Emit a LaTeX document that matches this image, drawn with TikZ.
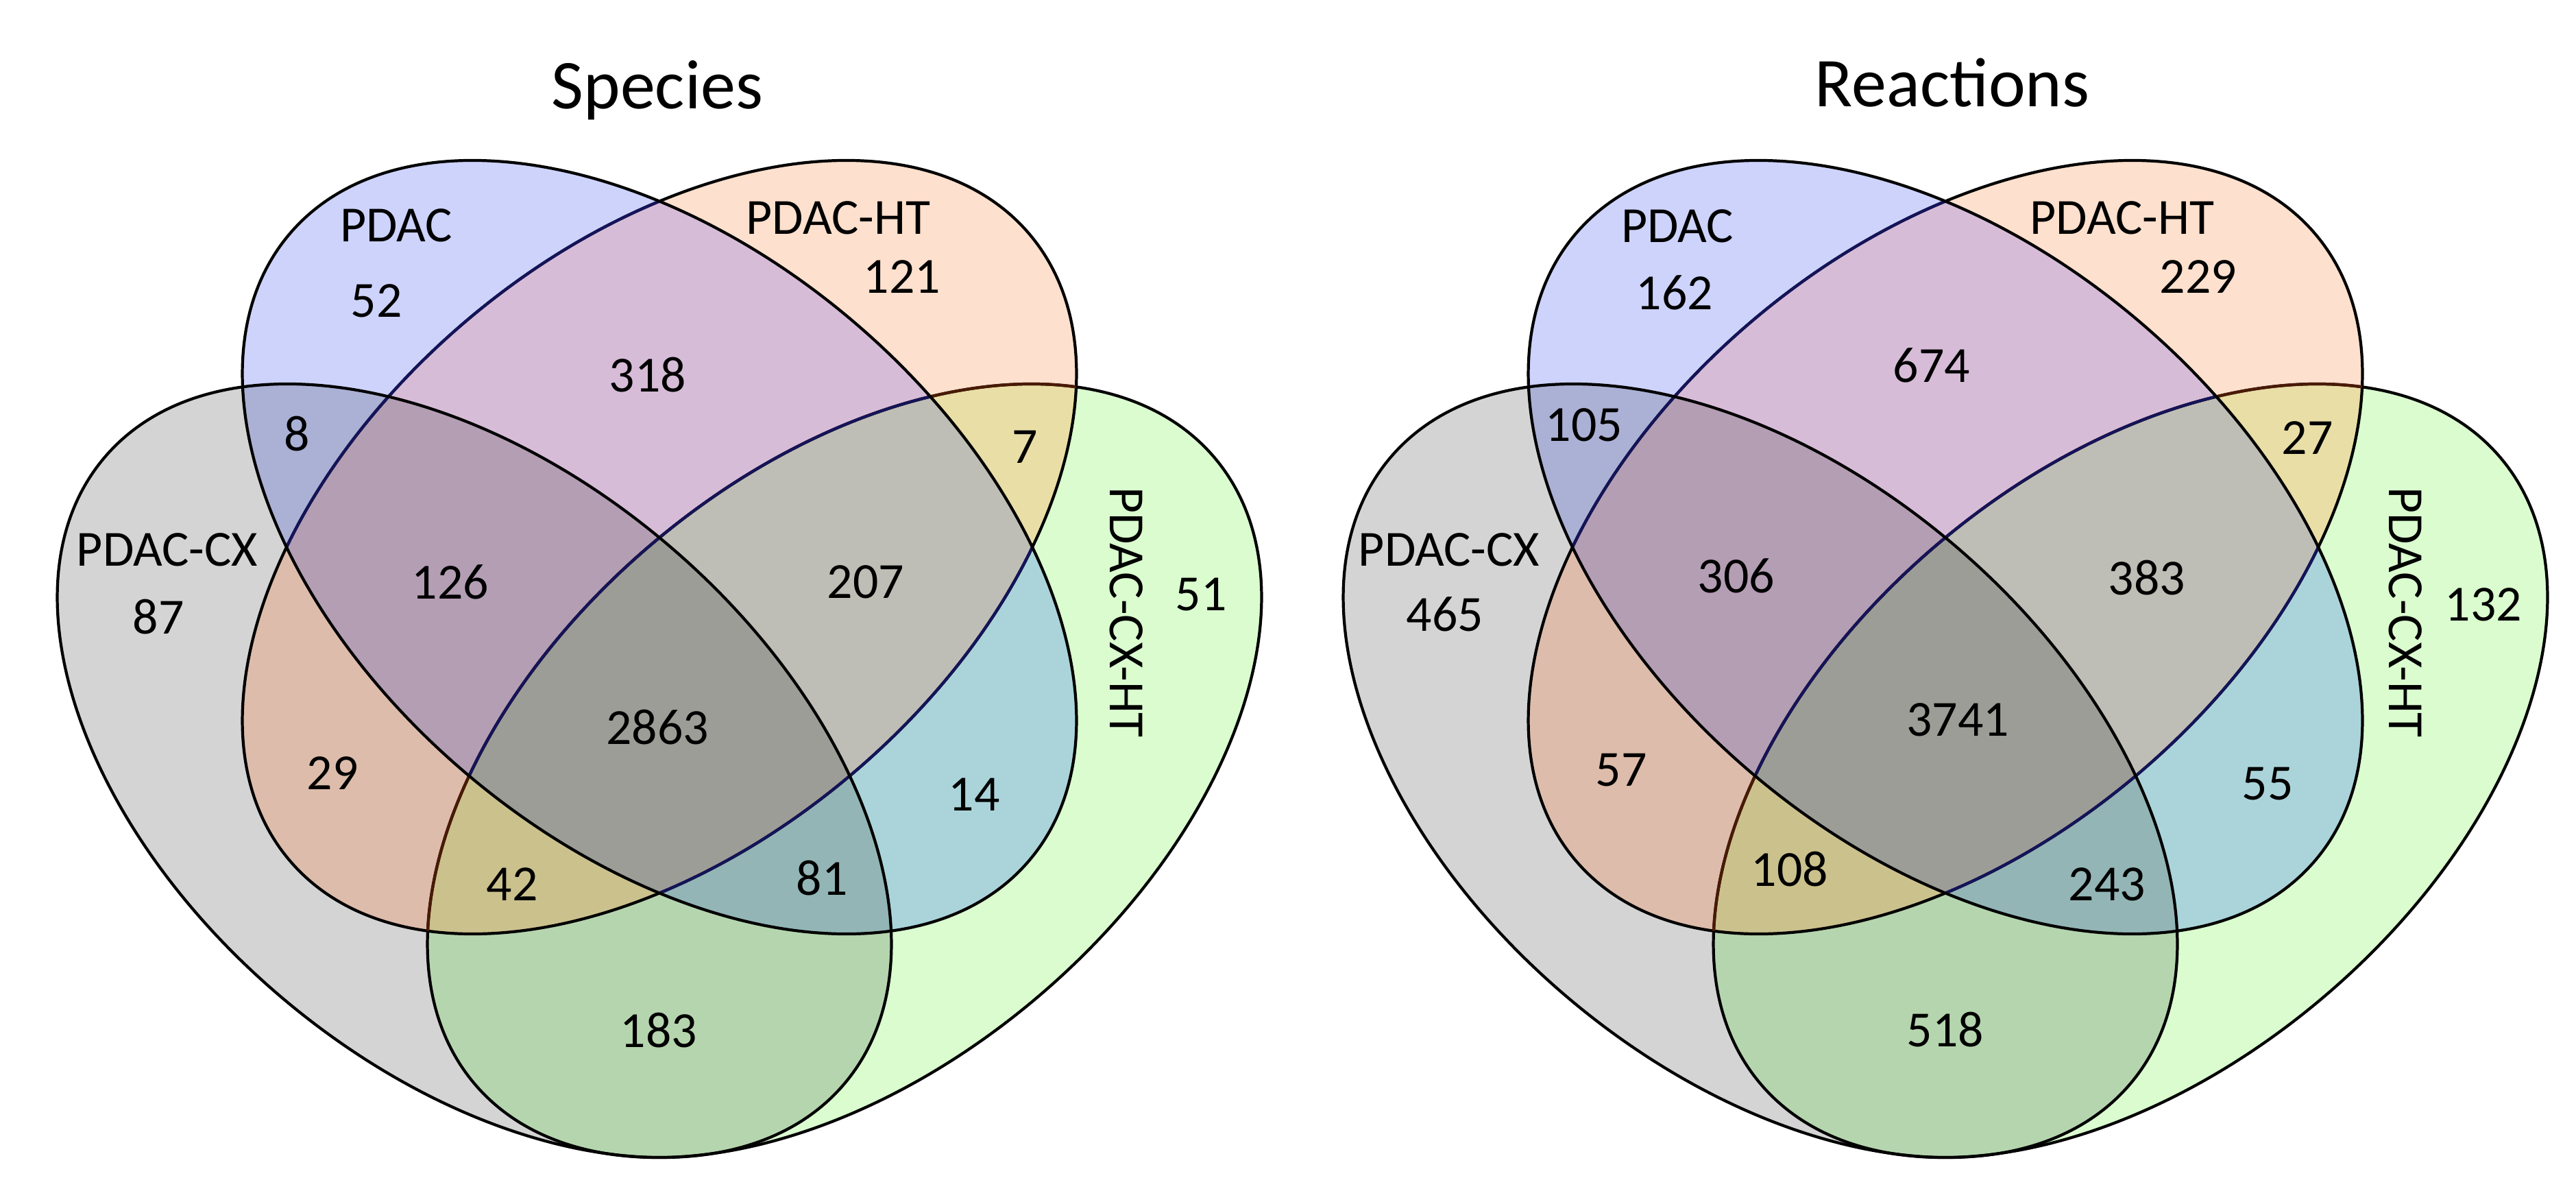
\documentclass[tikz,border=0pt]{standalone}
\usepackage{fontspec}
\setmainfont{Carlito}
\definecolor{cB}{HTML}{CDD3FB}
\definecolor{cO}{HTML}{FDE0CD}
\definecolor{cG}{HTML}{D4D4D4}
\definecolor{cN}{HTML}{DAFCCF}
\definecolor{cBO}{HTML}{D7BCD8}
\definecolor{cBG}{HTML}{ABB0D5}
\definecolor{cOG}{HTML}{DDBCAB}
\definecolor{cON}{HTML}{E9DEA6}
\definecolor{cBN}{HTML}{AAD4DA}
\definecolor{cGN}{HTML}{B5D5AE}
\definecolor{cBOG}{HTML}{B49EB4}
\definecolor{cBON}{HTML}{BEBEB6}
\definecolor{cOGN}{HTML}{CBC18D}
\definecolor{cBGN}{HTML}{93B5B5}
\definecolor{cALL}{HTML}{9D9D98}
\definecolor{navyline}{HTML}{14145A}
\definecolor{brownline}{HTML}{4A1A05}
\tikzset{
  lbl/.style={font=\fontsize{21pt}{25pt}\selectfont, inner sep=0pt},
  ttl/.style={font=\fontsize{29pt}{34pt}\selectfont, inner sep=0pt, anchor=base},
  outl/.style={draw=black, line width=1.2pt},
}
\newcommand\clipB{\clip[rotate around={-40.2:(9.62,-7.98)}] (9.62,-7.98) ellipse [x radius=7.07, y radius=4.34];}
\newcommand\clipO{\clip[rotate around={40.2:(9.62,-7.98)}] (9.62,-7.98) ellipse [x radius=7.07, y radius=4.34];}
\newcommand\clipG{\clip[rotate around={-40.2:(6.92,-11.24)}] (6.92,-11.24) ellipse [x radius=7.07, y radius=4.34];}
\newcommand\clipN{\clip[rotate around={40.2:(12.32,-11.24)}] (12.32,-11.24) ellipse [x radius=7.07, y radius=4.34];}
\newcommand\drawB[1]{\draw[outl, #1, rotate around={-40.2:(9.62,-7.98)}] (9.62,-7.98) ellipse [x radius=7.07, y radius=4.34];}
\newcommand\drawO[1]{\draw[outl, #1, rotate around={40.2:(9.62,-7.98)}] (9.62,-7.98) ellipse [x radius=7.07, y radius=4.34];}
\newcommand\drawG[1]{\draw[outl, #1, rotate around={-40.2:(6.92,-11.24)}] (6.92,-11.24) ellipse [x radius=7.07, y radius=4.34];}
\newcommand\drawN[1]{\draw[outl, #1, rotate around={40.2:(12.32,-11.24)}] (12.32,-11.24) ellipse [x radius=7.07, y radius=4.34];}
\newcommand\paint[2]{\begin{scope}#2\fill[#1] (-1,1) rectangle (20,-19);\end{scope}}
\newcommand\vennshapes{%
  \paint{cB}{\clipB}\paint{cO}{\clipO}\paint{cG}{\clipG}\paint{cN}{\clipN}%
  \paint{cBO}{\clipB\clipO}\paint{cBG}{\clipB\clipG}\paint{cBN}{\clipB\clipN}%
  \paint{cOG}{\clipO\clipG}\paint{cON}{\clipO\clipN}\paint{cGN}{\clipG\clipN}%
  \paint{cBOG}{\clipB\clipO\clipG}\paint{cBON}{\clipB\clipO\clipN}%
  \paint{cBGN}{\clipB\clipG\clipN}\paint{cOGN}{\clipO\clipG\clipN}%
  \paint{cALL}{\clipB\clipO\clipG\clipN}%
  \drawN{}\drawO{}%
  \begin{scope}\clipO\drawN{draw=brownline}\end{scope}%
  \begin{scope}\clipB\drawN{draw=navyline}\drawO{draw=navyline}\end{scope}%
  \drawB{}\drawG{}%
}
\begin{document}
\begin{tikzpicture}
\fill[white] (0,0) rectangle (37.58,-17.52);
\useasboundingbox (0,0) rectangle (37.58,-17.52);
% left diagram
\begin{scope}
\vennshapes
\end{scope}
\node[ttl] (tS) at (9.59,-1.58) {Species};
\node[lbl] (sA) at (5.78,-3.29) {PDAC};
\node[lbl] (sAn) at (5.49,-4.39) {52};
\node[lbl] (sB) at (12.23,-3.18) {PDAC-HT};
\node[lbl] (sBn) at (13.16,-4.04) {121};
\node[lbl] (s318) at (9.45,-5.47) {318};
\node[lbl] (s8) at (4.33,-6.33) {8};
\node[lbl] (s7) at (14.95,-6.52) {7};
\node[lbl] (sC) at (2.44,-8.02) {PDAC-CX};
\node[lbl] (sCn) at (2.31,-9.00) {87};
\node[lbl] (s126) at (6.57,-8.49) {126};
\node[lbl] (s207) at (12.63,-8.49) {207};
\node[lbl] (sDn) at (17.52,-8.67) {51};
\node[lbl, rotate=-90] (sD) at (16.43,-8.93) {PDAC-CX-HT};
\node[lbl] (s2863) at (9.59,-10.61) {2863};
\node[lbl] (s29) at (4.85,-11.28) {29};
\node[lbl] (s14) at (14.21,-11.59) {14};
\node[lbl] (s42) at (7.47,-12.90) {42};
\node[lbl] (s81) at (11.99,-12.81) {81};
\node[lbl] (s183) at (9.61,-15.03) {183};
% right diagram
\begin{scope}[xshift=18.76cm]
\vennshapes
\end{scope}
\node[ttl] (tR) at (28.48,-1.55) {Reactions};
\node[lbl] (rA) at (24.47,-3.30) {PDAC};
\node[lbl] (rAn) at (24.43,-4.27) {162};
\node[lbl] (rB) at (30.96,-3.18) {PDAC-HT};
\node[lbl] (rBn) at (32.07,-4.04) {229};
\node[lbl] (r674) at (28.18,-5.33) {674};
\node[lbl] (r105) at (23.11,-6.20) {105};
\node[lbl] (r27) at (33.66,-6.39) {27};
\node[lbl] (rC) at (21.14,-8.02) {PDAC-CX};
\node[lbl] (rCn) at (21.08,-8.96) {465};
\node[lbl] (r306) at (25.33,-8.40) {306};
\node[lbl] (r383) at (31.32,-8.43) {383};
\node[lbl] (rDn) at (36.23,-8.82) {132};
\node[lbl, rotate=-90] (rD) at (35.09,-8.93) {PDAC-CX-HT};
\node[lbl] (r3741) at (28.56,-10.50) {3741};
\node[lbl] (r57) at (23.65,-11.23) {57};
\node[lbl] (r55) at (33.08,-11.43) {55};
\node[lbl] (r108) at (26.11,-12.68) {108};
\node[lbl] (r243) at (30.74,-12.90) {243};
\node[lbl] (r518) at (28.38,-15.02) {518};
\end{tikzpicture}
\end{document}
